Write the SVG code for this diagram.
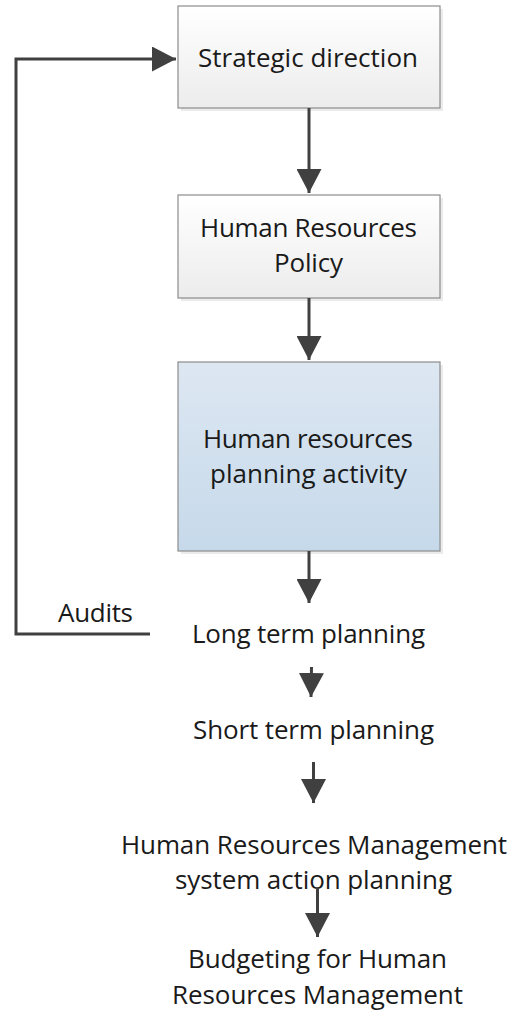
<svg xmlns="http://www.w3.org/2000/svg" width="512" height="1014" viewBox="0 0 512 1014">
<style>
.t{font-family:"Open Sans","Noto Sans",sans-serif;font-size:26px;fill:#1a1a1a;text-anchor:middle}
.box{stroke:#8c8c8c;stroke-width:1.2}
.sh{fill:#000;opacity:0.08}
.c{fill:none;stroke:#404040;stroke-width:3}
</style>
<defs>
<linearGradient id="gw" x1="0" y1="0" x2="0" y2="1"><stop offset="0" stop-color="#ffffff"/><stop offset="1" stop-color="#ececec"/></linearGradient>
<linearGradient id="gb" x1="0" y1="0" x2="0" y2="1"><stop offset="0" stop-color="#dde7f2"/><stop offset="1" stop-color="#c6d9ea"/></linearGradient>
<marker id="ah" markerUnits="userSpaceOnUse" markerWidth="25" markerHeight="25" refX="24" refY="12.5" orient="auto" viewBox="0 0 25 25"><path d="M0,0 L24,12.5 L0,25 z" fill="#404040"/></marker>
</defs>
<g id="n1">
<rect class="sh" x="181" y="9" width="262" height="102"/>
<rect class="box" x="178" y="6" width="262" height="102" fill="url(#gw)"/>
<text class="t" x="308" y="67" textLength="220">Strategic direction</text>
</g>
<g id="n2">
<rect class="sh" x="181" y="198" width="262" height="103"/>
<rect class="box" x="178" y="195" width="262" height="103" fill="url(#gw)"/>
<text class="t" x="308.5" y="237" textLength="217">Human Resources</text>
<text class="t" x="308.5" y="272" textLength="69">Policy</text>
</g>
<g id="n3">
<rect class="sh" x="181" y="365" width="262" height="189"/>
<rect class="box" x="178" y="362" width="262" height="189" fill="url(#gb)"/>
<text class="t" x="308" y="448" textLength="210">Human resources</text>
<text class="t" x="308.5" y="483" textLength="197">planning activity</text>
</g>
<g id="n4"><text class="t" x="308.5" y="643" textLength="233">Long term planning</text></g>
<g id="n5"><text class="t" x="313.5" y="739" textLength="241">Short term planning</text></g>
<g id="n6">
<text class="t" x="314" y="854" textLength="386">Human Resources Management</text>
<text class="t" x="313.5" y="889" textLength="277">system action planning</text>
</g>
<g id="n7">
<text class="t" x="317.5" y="968" textLength="259">Budgeting for Human</text>
<text class="t" x="317.5" y="1004" textLength="291">Resources Management</text>
</g>
<g id="connectors">
<line class="c" x1="309" y1="108" x2="309" y2="193" marker-end="url(#ah)"/>
<line class="c" x1="309" y1="298" x2="309" y2="360" marker-end="url(#ah)"/>
<line class="c" x1="309" y1="551" x2="309" y2="603" marker-end="url(#ah)"/>
<line class="c" x1="311.5" y1="667" x2="311" y2="697" marker-end="url(#ah)"/>
<line class="c" x1="313.5" y1="762" x2="313.5" y2="803" marker-end="url(#ah)"/>
<line class="c" x1="317.5" y1="888" x2="317.5" y2="937" marker-end="url(#ah)"/>
<polyline class="c" points="150,634 16,634 16,59 176,59" marker-end="url(#ah)"/>
<text class="t" x="95.5" y="622" textLength="75">Audits</text>
</g>
</svg>
